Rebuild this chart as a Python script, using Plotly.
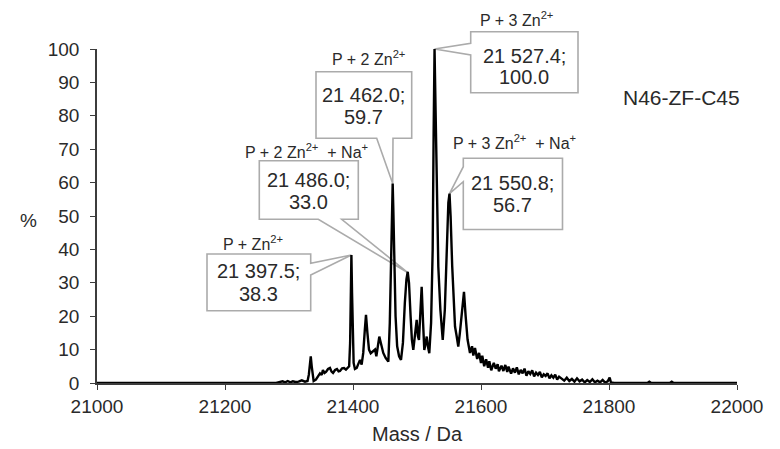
import plotly.graph_objects as go

# ---------------- data ----------------
mass = [21000, 21280, 21290, 21294, 21298, 21302, 21306, 21310, 21315, 21320, 21325, 21329,
        21331, 21332.5, 21334, 21335.5, 21337, 21338.5, 21342, 21345, 21348.4, 21351, 21353,
        21355.5, 21357.8, 21361, 21364, 21366.5, 21368.8, 21372, 21375, 21377.5, 21379.7,
        21383, 21386, 21389, 21392, 21394, 21395.5, 21396.5, 21397.5, 21398.5, 21399.5,
        21401, 21403, 21405.8, 21408.5, 21411, 21413.5, 21416, 21418.5, 21420.3, 21422.5,
        21425, 21427.7, 21431, 21434.4, 21436.5, 21439, 21441.1, 21443.5, 21447.3, 21451,
        21455.2, 21457.5, 21459.5, 21461, 21462, 21463, 21464.5, 21466.5, 21469, 21472,
        21475, 21478, 21481, 21483.5, 21485.5, 21487.5, 21490, 21492, 21494.2, 21497,
        21499.5, 21501.5, 21503.1, 21505.5, 21507.3, 21509.5, 21511.4, 21513.5, 21515.2,
        21517, 21519.2, 21522, 21524.5, 21526, 21527.4, 21529, 21531, 21533.3, 21536.5,
        21540.2, 21543.5, 21546.5, 21549, 21550.8, 21552.5, 21555, 21557, 21559.4, 21562,
        21564.5, 21567, 21570, 21573.4, 21576, 21579, 21582.8, 21586, 21588, 21590.6, 21594,
        21597, 21600, 21602, 21605, 21608, 21611, 21613, 21616, 21620, 21623, 21626, 21628,
        21632, 21635, 21638, 21641, 21643, 21647, 21650, 21653, 21656, 21659, 21662, 21665,
        21668, 21671, 21674, 21677, 21680, 21683, 21686, 21689, 21692, 21695, 21698, 21701,
        21704, 21707, 21710, 21713, 21716, 21719, 21722, 21726, 21730, 21734, 21738, 21742,
        21746, 21750, 21754, 21758, 21762, 21766, 21770, 21774, 21778, 21782, 21786, 21790,
        21794, 21798, 21801, 21803, 21808, 21860, 21863, 21866, 21895, 21898, 21901, 22000]
intensity = [0, 0, 0.5, 0.2, 0.6, 0.2, 0.5, 0.3, 0.4, 0.8, 0.4, 0.6,
             2.5, 6.0, 8.0, 5.0, 1.5, 0.6, 1.0, 2.0, 2.9, 2.4, 3.9,
             3.0, 3.3, 4.2, 4.5, 3.4, 3.0, 3.9, 4.2, 3.5, 3.6,
             4.4, 4.5, 4.0, 4.8, 5.0, 12.0, 30.0, 38.3, 27.0, 12.0,
             6.0, 4.2, 4.5, 5.8, 6.9, 5.5, 9.0, 16.0, 20.4, 15.0,
             10.0, 8.9, 9.5, 10.0, 8.0, 11.5, 13.9, 12.0, 9.0, 7.5,
             6.4, 18.0, 40.0, 54.0, 59.7, 52.0, 35.0, 20.0, 11.0, 8.0,
             6.9, 12.0, 24.0, 31.0, 33.3, 30.0, 20.0, 13.0, 9.9, 14.0,
             18.9, 14.0, 12.9, 22.0, 28.8, 18.0, 9.9, 12.0, 13.9,
             11.0, 8.9, 18.0, 40.0, 75.0, 100.0, 82.0, 52.0, 34.8, 22.0,
             12.9, 22.0, 42.0, 54.0, 56.7, 50.0, 35.0, 24.0, 16.9, 14.0,
             10.9, 15.0, 22.0, 27.3, 20.0, 13.0, 9.0, 11.0, 8.2, 10.5, 7.2,
             9.0, 6.0, 8.2, 5.0, 7.1, 4.6, 6.5, 3.8, 6.0, 4.3, 5.6, 3.5,
             5.2, 3.6, 5.4, 3.3, 4.9, 2.8, 4.4, 3.1, 4.7, 2.6, 3.9, 2.9,
             4.3, 2.2, 3.5, 2.7, 3.8, 2.0, 3.1, 2.4, 3.3, 1.7, 2.6, 2.1,
             2.9, 1.4, 2.3, 1.6, 2.5, 1.0, 1.9, 1.3, 0.7, 1.6, 0.6, 1.2,
             0.4, 1.4, 0.5, 1.0, 0.2, 0.9, 0.3, 1.1, 0.2, 0.7, 0.2, 0.9,
             0.1, 0.5, 1.6, 0.2, 0.0, 0.0, 0.4, 0.0, 0.0, 0.4, 0.0, 0]

x_ticks = [21000, 21200, 21400, 21600, 21800, 22000]
y_ticks = [0, 10, 20, 30, 40, 50, 60, 70, 80, 90, 100]

peak_mass = [21397.5, 21486.0, 21462.0, 21527.4, 21550.8]
peak_int = [38.3, 33.0, 59.7, 100.0, 56.7]
peak_names = ["P + Zn<sup>2+</sup>", "P + 2 Zn<sup>2+</sup>  + Na<sup>+</sup>",
              "P + 2 Zn<sup>2+</sup>", "P + 3 Zn<sup>2+</sup>",
              "P + 3 Zn<sup>2+</sup>  + Na<sup>+</sup>"]
value_lines = [("21 397.5;", "38.3"), ("21 486.0;", "33.0"), ("21 462.0;", "59.7"),
               ("21 527.4;", "100.0"), ("21 550.8;", "56.7")]

# ---------------- layout helpers (pixel -> paper) ----------------
L_PX, R_PX, T_PX, B_PX = 97, 737, 49, 383
X0, X1, Y0, Y1 = 21000, 22000, 0, 100


def PX(px):
    return (px - L_PX) / (R_PX - L_PX)


def PY(py):
    return (B_PX - py) / (B_PX - T_PX)


def DX(v):
    return (v - X0) / (X1 - X0)


def DY(v):
    return (v - Y0) / (Y1 - Y0)


# callout boxes: (left, top, right, bottom), wedge side, wedge points, label pos, line1 y, line2 y
boxes = [
    ((207, 254, 310.7, 310.7), "right", (263.3, 275), (253, 243), 271, 293.5),
    ((259.3, 160.7, 358.3, 219.3), "bottom", (318.3, 341.7), (306.5, 150.5), 180, 202),
    ((316, 71.7, 411.7, 138.3), "bottom", (376.7, 393), (368, 58), 95.5, 117),
    ((470.7, 31.7, 578, 92.7), "left", (43.3, 55), (516.7, 19), 55.5, 77),
    ((463.3, 158.3, 562.5, 229.5), "left", (166.7, 181.7), (514, 141.7), 183, 205),
]

font_fam = "Liberation Sans, Arial, sans-serif"
txt_col = "#2a2a2a"
axis_col = "#3c3c3c"
box_col = "#ababab"


def note(x, y, text, size):
    return dict(x=x, y=y, xref="paper", yref="paper", text=text, showarrow=False,
                xanchor="center", yanchor="middle",
                font=dict(size=size, color=txt_col, family=font_fam))


fig = go.Figure()
fig.add_trace(go.Scatter(x=mass, y=intensity, mode="lines",
                         line=dict(color="black", width=2.4), hoverinfo="skip"))

shapes = []
annotations = []
for i, (box, side, wp, lab, ly1, ly2) in enumerate(boxes):
    l, t, r, b = box
    tip = (DX(peak_mass[i]), DY(peak_int[i]))
    pts = [(PX(l), PY(t)), (PX(r), PY(t))]
    if side == "right":
        pts += [(PX(r), PY(wp[0])), tip, (PX(r), PY(wp[1]))]
    pts += [(PX(r), PY(b))]
    if side == "bottom":
        pts += [(PX(wp[1]), PY(b)), tip, (PX(wp[0]), PY(b))]
    pts += [(PX(l), PY(b))]
    if side == "left":
        pts += [(PX(l), PY(wp[1])), tip, (PX(l), PY(wp[0]))]
    path = "M " + " L ".join(f"{px:.5f},{py:.5f}" for px, py in pts) + " Z"
    shapes.append(dict(type="path", path=path, xref="paper", yref="paper", layer="below",
                       line=dict(color=box_col, width=1.6), fillcolor="white"))
    cx = PX((l + r) / 2)
    annotations.append(note(cx, PY(ly1), value_lines[i][0], 20))
    annotations.append(note(cx, PY(ly2), value_lines[i][1], 20))
    annotations.append(note(PX(lab[0]), PY(lab[1]), peak_names[i], 16))

annotations.append(note(PX(681), PY(97), "N46-ZF-C45", 21))
annotations.append(note(PX(28), PY(220), "%", 19))

fig.update_layout(
    width=780, height=449,
    margin=dict(l=L_PX, r=780 - R_PX, t=T_PX, b=449 - B_PX),
    plot_bgcolor="white", paper_bgcolor="white", showlegend=False,
    shapes=shapes, annotations=annotations,
    font=dict(family=font_fam, color=txt_col),
    xaxis=dict(range=[X0, X1], tickvals=x_ticks, ticktext=[str(v) for v in x_ticks],
               showline=True, linecolor=axis_col, linewidth=1.5, ticks="outside",
               ticklen=5, tickwidth=1.2, tickcolor=axis_col, showgrid=False, zeroline=False,
               automargin=False,
               tickfont=dict(size=19, color=txt_col, family=font_fam),
               title=dict(text="Mass / Da", font=dict(size=20, color=txt_col, family=font_fam),
                          standoff=11)),
    yaxis=dict(range=[Y0, Y1], tickvals=y_ticks, showline=True, linecolor=axis_col,
               linewidth=1.5, ticks="outside", ticklen=5, tickwidth=1.2, tickcolor=axis_col,
               showgrid=False, zeroline=False, ticklabelstandoff=7, automargin=False,
               tickfont=dict(size=19, color=txt_col, family=font_fam)),
)

fig.write_html("out.html")
